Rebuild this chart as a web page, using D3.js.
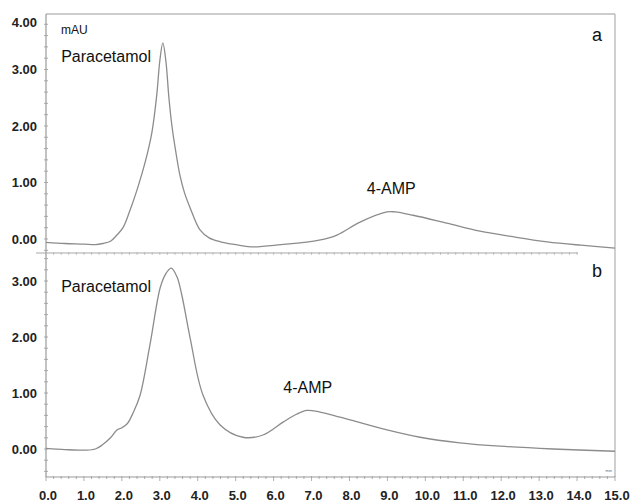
<!DOCTYPE html>
<html>
<head>
<meta charset="utf-8">
<script src="https://cdn.jsdelivr.net/npm/d3@7"></script>
<style>
  body { margin: 0; background: #fff; }
  svg { display: block; font-family: "Liberation Sans", Arial, sans-serif; }
</style>
</head>
<body>
<svg id="chart" width="637" height="502"></svg>
<script>
// chromatogram a (top) and b (bottom), time in min, signal in mAU
const timeA   = [0, 0.5, 1.0, 1.3, 1.5, 1.7, 1.87, 2.03, 2.21, 2.4, 2.61, 2.79, 2.92, 3.0, 3.08, 3.16, 3.24, 3.32, 3.42, 3.53, 3.65, 3.8, 4.06, 4.3, 4.6, 5.0, 5.4, 6.2, 7.2, 7.67, 8.28, 8.99, 9.2, 9.68, 10.57, 11.44, 12.31, 13.21, 14.1, 15.0];
const signalA = [-0.06, -0.08, -0.09, -0.1, -0.08, -0.04, 0.07, 0.2, 0.5, 0.87, 1.35, 1.88, 2.55, 3.15, 3.47, 3.15, 2.5, 2.0, 1.55, 1.13, 0.82, 0.55, 0.16, 0.02, -0.05, -0.1, -0.14, -0.1, -0.02, 0.07, 0.3, 0.48, 0.48, 0.42, 0.28, 0.14, 0.04, -0.05, -0.11, -0.16];

const timeB   = [0, 0.5, 1.03, 1.3, 1.48, 1.7, 1.87, 2.0, 2.14, 2.3, 2.48, 2.74, 3.01, 3.15, 3.3, 3.45, 3.58, 3.8, 4.14, 4.59, 5.19, 5.72, 6.25, 6.6, 6.88, 7.22, 7.75, 8.99, 9.86, 10.91, 11.97, 13.37, 15.0];
const signalB = [0.01, -0.01, -0.02, 0.0, 0.07, 0.2, 0.34, 0.38, 0.45, 0.65, 0.96, 1.86, 2.88, 3.12, 3.23, 3.08, 2.75, 1.98, 0.96, 0.43, 0.21, 0.25, 0.48, 0.62, 0.69, 0.66, 0.57, 0.34, 0.21, 0.11, 0.05, 0.0, -0.04];

const xTicks  = [0, 1, 2, 3, 4, 5, 6, 7, 8, 9, 10, 11, 12, 13, 14, 15];
const yTicksA = [0, 1, 2, 3, 4];
const yTicksB = [0, 1, 2, 3];

// peak labels: [time, signal, text, anchor]
const labelsA = [[0.4, 3.13, 'Paracetamol', 'start'], [9.1, 0.8, '4-AMP', 'middle']];
const labelsB = [[0.4, 2.8, 'Paracetamol', 'start'], [6.9, 1.0, '4-AMP', 'middle']];

const svg = d3.select('#chart');
const lineCol = '#8c8c8c', axisCol = '#9a9a9a';

const x = d3.scaleLinear().domain([0, 15]).range([46, 615]);
const yA = d3.scaleLinear().domain([-0.248, 3.982]).range([253, 14]);
const yB = d3.scaleLinear().domain([-0.5, 3.5]).range([477, 253]);

// frame
svg.append('line').attr('x1', 46).attr('x2', 615).attr('y1', 14).attr('y2', 14)
    .attr('stroke', axisCol).attr('stroke-width', 1.2);
svg.append('line').attr('x1', 615).attr('x2', 615).attr('y1', 14).attr('y2', 477)
    .attr('stroke', '#b0b0b0').attr('stroke-width', 1.2);
svg.append('line').attr('x1', 46).attr('x2', 46).attr('y1', 14).attr('y2', 477)
    .attr('stroke', axisCol).attr('stroke-width', 1.2);
svg.append('line').attr('x1', 36).attr('x2', 578).attr('y1', 253).attr('y2', 253)
    .attr('stroke', '#a8a8a8').attr('stroke-width', 1.2);

// minor ticks on left axis
function yMinor(y, lo, hi){
    const vals = d3.range(Math.ceil(lo * 5) / 5, hi, 0.2);
    svg.append('g').selectAll('line').data(vals).join('line')
        .attr('x1', 44).attr('x2', 48)
        .attr('y1', d => y(d)).attr('y2', d => y(d))
        .attr('stroke', axisCol).attr('stroke-width', 0.8);
}
yMinor(yA, -0.2, 3.95);
yMinor(yB, -0.4, 3.45);

// y tick labels
function yLabels(y, ticks, cls){
    svg.append('g').selectAll('text').data(ticks).join('text')
        .attr('x', 37).attr('y', d => y(d))
        .attr('dy', d => (cls === 'a' && d === 4) ? '1.05em' : '0.35em')
        .attr('text-anchor', 'end')
        .style('font-size', '13px').style('font-weight', 'bold').style('fill', '#222')
        .text(d => d3.format('.2f')(d));
}
yLabels(yA, yTicksA, 'a');
yLabels(yB, yTicksB, 'b');

// x axis at the bottom
const xMinor = d3.range(0, 15.01, 0.2);
svg.append('g').selectAll('line').data(xMinor).join('line')
    .attr('x1', d => x(d)).attr('x2', d => x(d))
    .attr('y1', 476).attr('y2', d => Math.abs(d - Math.round(d)) < 1e-6 ? 481 : 479)
    .attr('stroke', axisCol).attr('stroke-width', 0.8);
svg.append('line').attr('x1', 46).attr('x2', 615).attr('y1', 477).attr('y2', 477)
    .attr('stroke', axisCol).attr('stroke-width', 1.2);
svg.append('g').selectAll('line').data(xMinor.filter(d => d < 14.1)).join('line')
    .attr('x1', d => x(d)).attr('x2', d => x(d))
    .attr('y1', 252).attr('y2', 255)
    .attr('stroke', '#b0b0b0').attr('stroke-width', 0.7);
svg.append('g').selectAll('text').data(xTicks).join('text')
    .attr('x', d => x(d) + 2).attr('y', 495).attr('dy', '0.35em')
    .attr('text-anchor', 'middle')
    .style('font-size', '13px').style('font-weight', 'bold').style('fill', '#222')
    .text(d => d3.format('.1f')(d));
svg.append('text').attr('x', 612).attr('y', 472).attr('text-anchor', 'end')
    .style('font-size', '4px').style('fill', '#666').text('min');

// traces
function trace(times, vals, y){
    const pts = times.map((t, i) => [t, vals[i]]);
    const line = d3.line().x(d => x(d[0])).y(d => y(d[1])).curve(d3.curveCatmullRom.alpha(0.5));
    svg.append('path').datum(pts).attr('d', line).attr('fill', 'none')
        .attr('stroke', lineCol).attr('stroke-width', 1.3);
}
trace(timeA, signalA, yA);
trace(timeB, signalB, yB);

// labels
svg.append('text').attr('x', 61).attr('y', 34).style('font-size', '12px').style('fill', '#111').text('mAU');
function peakLabels(list, y){
    svg.append('g').selectAll('text').data(list).join('text')
        .attr('x', d => x(d[0])).attr('y', d => y(d[1]))
        .attr('text-anchor', d => d[3])
        .style('font-size', '16px').style('fill', '#111')
        .text(d => d[2]);
}
peakLabels(labelsA, yA);
peakLabels(labelsB, yB);
svg.append('text').attr('x', 597).attr('y', 41).attr('text-anchor', 'middle')
    .style('font-size', '18px').style('fill', '#111').text('a');
svg.append('text').attr('x', 597).attr('y', 277).attr('text-anchor', 'middle')
    .style('font-size', '18px').style('fill', '#111').text('b');
</script>
</body>
</html>
